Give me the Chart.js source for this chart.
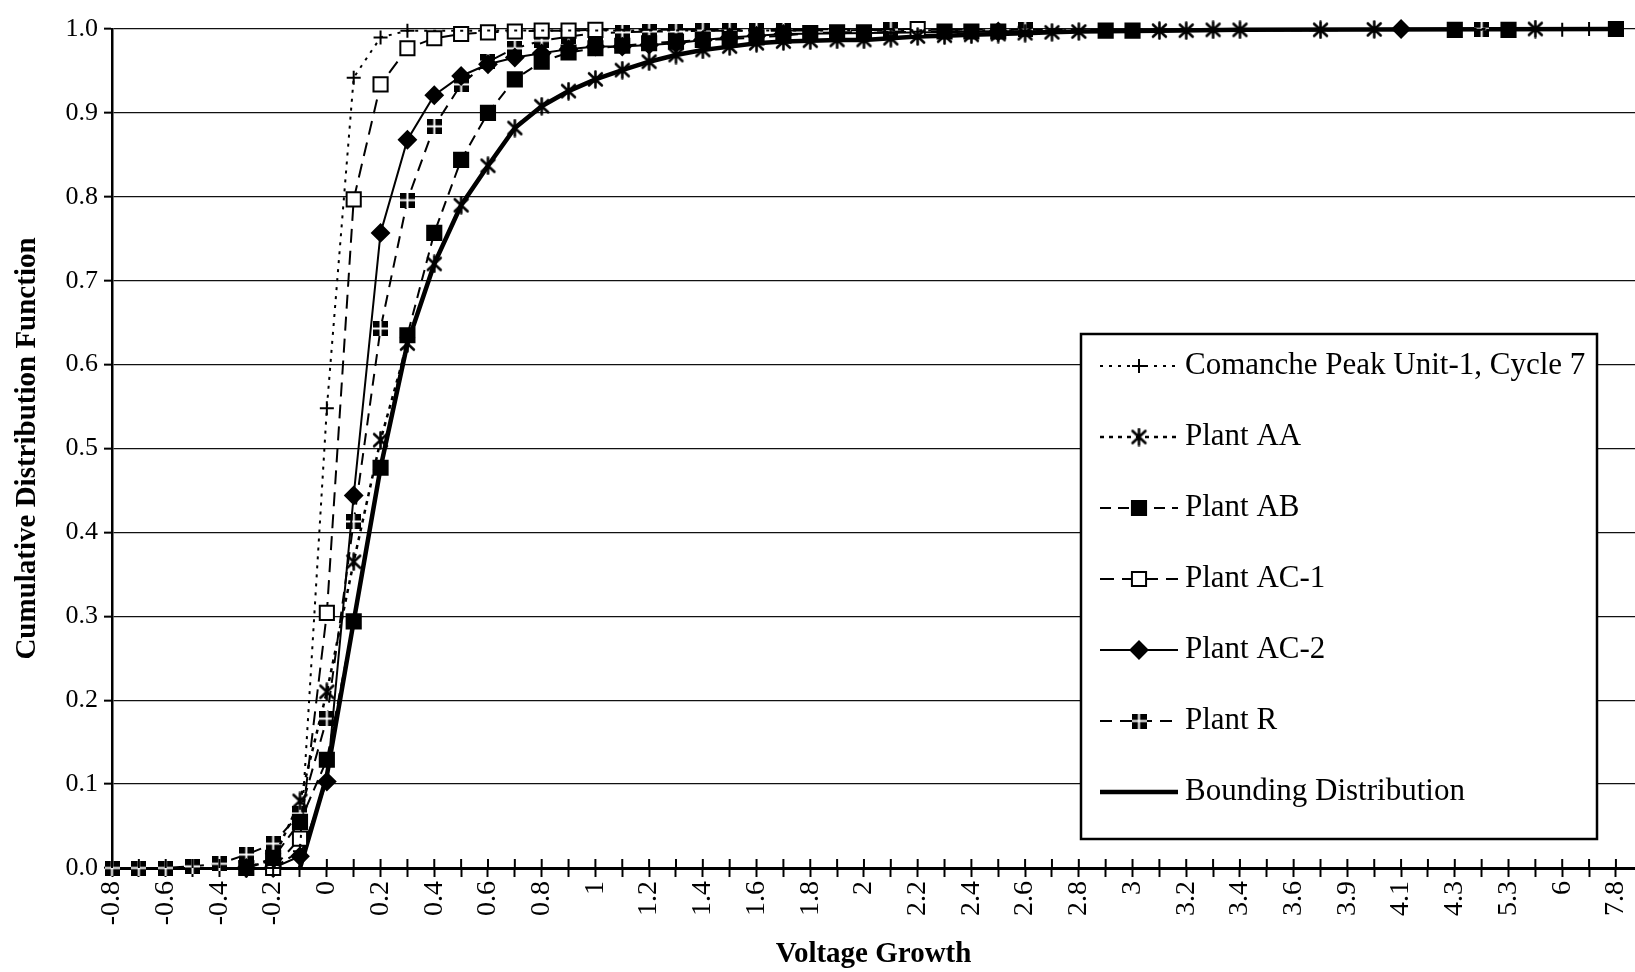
<!DOCTYPE html>
<html lang="en">
<head>
    <meta charset="UTF-8">
    <title>Voltage Growth CDF</title>
    <script src="https://cdn.jsdelivr.net/npm/chart.js@4.4.1/dist/chart.umd.min.js"></script>
    <style>
        html, body { margin: 0; padding: 0; background: #fff; overflow: hidden; }
        /* a bit wider than the window so the plot runs off the right edge */
        #wrap { width: 1647px; height: 972px; position: relative; }
    </style>
</head>
<body>
    <div id="wrap"><canvas id="cdfChart"></canvas></div>
    <script>

        // voltage growth categories (only every other one gets a label)
        const voltageLabels = [
            '-0.8', '-0.7', '-0.6', '-0.5', '-0.4', '-0.3', '-0.2', '-0.1', '0', '0.1',
            '0.2', '0.3', '0.4', '0.5', '0.6', '0.7', '0.8', '0.9', '1', '1.1',
            '1.2', '1.3', '1.4', '1.5', '1.6', '1.7', '1.8', '1.9', '2', '2.1',
            '2.2', '2.3', '2.4', '2.5', '2.6', '2.7', '2.8', '2.9', '3', '3.1',
            '3.2', '3.3', '3.4', '3.5', '3.6', '3.8', '3.9', '4', '4.1', '4.2',
            '4.3', '4.6', '5.3', '5.5', '6', '6.7', '7.8'
        ];

        const yTicks = [0, 0.1, 0.2, 0.3, 0.4, 0.5, 0.6, 0.7, 0.8, 0.9, 1.0];

        // cumulative fractions per plant, null = no point at that category
        const comanchePeak = [
            null, null, null, null, null, null, 0.0, 0.02, 0.548, 0.942,
            0.990, 0.998, null, null, null, null, null, null, null, null,
            null, null, null, null, null, null, null, null, null, null,
            null, null, null, null, null, null, null, null, null, null,
            null, null, null, null, null, null, null, null, null, null,
            null, null, null, null, 0.999, 1.0, null
        ];
        const plantAA = [
            null, null, null, null, null, 0.0, 0.01, 0.08, 0.21, 0.365,
            0.51, 0.625, 0.72, 0.79, 0.837, 0.882, 0.908, 0.926, 0.94, 0.951,
            0.961, 0.969, 0.975, 0.979, 0.983, 0.985, 0.986, 0.987, 0.987, 0.989,
            0.991, 0.992, 0.993, 0.994, 0.995, 0.996, 0.997, null, null, 0.998,
            0.998, 0.999, 0.999, null, null, 0.999, null, 0.9995, null, null,
            null, null, null, 1.0, null, null, null
        ];
        const plantAB = [
            null, null, null, null, null, 0.0, 0.012, 0.055, 0.129, 0.294,
            0.477, 0.635, 0.757, 0.844, 0.9, 0.94, 0.961, 0.972, 0.977, 0.98,
            0.983, 0.985, 0.987, 0.988, 0.99, 0.992, 0.995, 0.996, 0.996, null,
            null, 0.997, 0.997, 0.997, null, null, null, 0.998, 0.998, null,
            null, null, null, null, null, null, null, null, null, null,
            0.999, null, 0.999, null, null, null, 1.0
        ];
        const plantAC1 = [
            null, null, null, null, null, null, 0.0, 0.035, 0.304, 0.797,
            0.934, 0.977, 0.989, 0.994, 0.996, 0.997, 0.998, 0.998, 0.999, null,
            null, null, null, null, null, null, null, null, null, null,
            1.0, null, null, null, null, null, null, null, null, null,
            null, null, null, null, null, null, null, null, null, null,
            null, null, null, null, null, null, null
        ];
        const plantAC2 = [
            null, null, null, null, null, 0.0, 0.0, 0.014, 0.103, 0.444,
            0.757, 0.868, 0.921, 0.944, 0.958, 0.966, 0.971, 0.976, 0.979, 0.979,
            0.981, 0.983, 0.987, 0.99, 0.992, 0.994, null, null, null, null,
            null, null, null, 0.997, null, null, null, null, null, null,
            null, null, null, null, null, null, null, null, 1.0, null,
            null, null, null, null, null, null, null
        ];
        const plantR = [
            0.0, 0.0, 0.0, 0.002, 0.005, 0.016, 0.029, 0.065, 0.178, 0.413,
            0.643, 0.796, 0.884, 0.934, 0.961, 0.977, 0.986, 0.991, 0.995, 0.996,
            0.997, 0.997, 0.998, 0.998, 0.998, 0.998, null, null, null, 0.999,
            null, null, null, null, 0.999, null, null, null, null, null,
            null, null, null, null, null, null, null, null, null, null,
            null, 1.0, null, null, null, null, null
        ];
        const bounding = [
            null, null, null, null, null, null, null, 0.0, 0.11, 0.294,
            0.477, 0.625, 0.72, 0.79, 0.837, 0.882, 0.908, 0.926, 0.94, 0.951,
            0.961, 0.969, 0.975, 0.979, 0.983, 0.985, 0.986, 0.987, 0.987, 0.989,
            0.991, 0.992, 0.993, 0.994, 0.995, 0.996, 0.997, null, null, 0.998,
            null, null, 0.999, null, null, null, null, null, null, null,
            null, null, null, null, null, null, 1.0
        ];

        const toPoints = arr => arr.map((v, i) => ({ x: i, y: v }));

        // black square split by a white cross, used for Plant R
        function gridMarker(size) {
            const c = document.createElement('canvas');
            c.width = size; c.height = size;
            const g = c.getContext('2d');
            g.fillStyle = '#000';
            g.fillRect(0, 0, size, size);
            g.fillStyle = '#fff';
            const m = size / 2;
            g.fillRect(m - 1, 0, 2, size);
            g.fillRect(0, m - 1, size, 2);
            return c;
        }

        // six-armed asterisk: vertical bar plus an x
        function asteriskMarker(size) {
            const c = document.createElement('canvas');
            c.width = size; c.height = size;
            const g = c.getContext('2d');
            const m = size / 2, r = size / 2 - 1.5;
            g.strokeStyle = '#000';
            g.lineWidth = 2.6;
            g.lineCap = 'round';
            g.beginPath();
            g.moveTo(m, m - r); g.lineTo(m, m + r);
            g.moveTo(m - r * 0.8, m - r * 0.75); g.lineTo(m + r * 0.8, m + r * 0.75);
            g.moveTo(m + r * 0.8, m - r * 0.75); g.lineTo(m - r * 0.8, m + r * 0.75);
            g.stroke();
            return c;
        }

        Chart.defaults.font.family = '"Liberation Serif", "Times New Roman", serif';
        Chart.defaults.color = '#000';

        function series(label, data, style) {
            return Object.assign({
                label: label,
                data: toPoints(data),
                borderColor: '#000',
                backgroundColor: '#000',
                pointBackgroundColor: '#000',
                pointBorderColor: '#000',
                borderWidth: 2,
                pointBorderWidth: 2,
                tension: 0,
                spanGaps: true,
                clip: false
            }, style);
        }

        // crossing tick marks on the x axis line
        const crossTicks = {
            id: 'crossTicks',
            afterDatasetsDraw(chart) {
                const xs = chart.scales.x;
                const y0 = chart.scales.y.getPixelForValue(0);
                const ctx = chart.ctx;
                ctx.save();
                ctx.strokeStyle = '#000';
                ctx.lineWidth = 2;
                xs.ticks.forEach(t => {
                    const px = xs.getPixelForValue(t.value);
                    ctx.beginPath();
                    ctx.moveTo(px, y0 - 9);
                    ctx.lineTo(px, y0);
                    ctx.stroke();
                });
                ctx.restore();
            }
        };

        // boxed legend inside the plot
        const boxLegend = {
            id: 'boxLegend',
            afterDraw(chart) {
                const ctx = chart.ctx;
                const box = { left: 1081, top: 334, right: 1597, bottom: 839 };
                ctx.save();
                ctx.fillStyle = '#fff';
                ctx.fillRect(box.left, box.top, box.right - box.left, box.bottom - box.top);
                ctx.strokeStyle = '#000';
                ctx.lineWidth = 2.5;
                ctx.strokeRect(box.left, box.top, box.right - box.left, box.bottom - box.top);

                chart.data.datasets.forEach((ds, k) => {
                    const y = 366 + k * 71;
                    ctx.strokeStyle = '#000';
                    ctx.lineWidth = ds.borderWidth;
                    ctx.setLineDash(ds.borderDash || []);
                    ctx.beginPath();
                    ctx.moveTo(1100, y);
                    ctx.lineTo(1178, y);
                    ctx.stroke();
                    ctx.setLineDash([]);
                    if (ds.pointRadius > 0) {
                        ctx.fillStyle = ds.pointBackgroundColor;
                        ctx.strokeStyle = ds.pointBorderColor;
                        ctx.lineWidth = ds.pointBorderWidth;
                        Chart.helpers.drawPoint(ctx, {
                            pointStyle: ds.pointStyle,
                            radius: ds.pointRadius,
                            borderWidth: ds.pointBorderWidth,
                            rotation: 0
                        }, 1139, y);
                    }
                    ctx.fillStyle = '#000';
                    ctx.font = '31px "Liberation Serif"';
                    ctx.textBaseline = 'middle';
                    ctx.textAlign = 'left';
                    ctx.fillText(ds.label, 1185, y);
                });
                ctx.restore();
            }
        };

        const ctx = document.getElementById('cdfChart').getContext('2d');
        const cdfChart = new Chart(ctx, {
            type: 'line',
            data: {
                datasets: [
                    series('Comanche Peak Unit-1, Cycle 7', comanchePeak, {
                        borderDash: [3, 6], pointStyle: 'cross', pointRadius: 7
                    }),
                    series('Plant AA', plantAA, {
                        borderDash: [4, 5], borderWidth: 2.5, pointStyle: asteriskMarker(19), pointRadius: 9
                    }),
                    series('Plant AB', plantAB, {
                        borderDash: [11, 7], pointStyle: 'rect', pointRadius: 10
                    }),
                    series('Plant AC-1', plantAC1, {
                        borderDash: [14, 8], pointStyle: 'rect', pointRadius: 10,
                        pointBackgroundColor: '#fff'
                    }),
                    series('Plant AC-2', plantAC2, {
                        pointStyle: 'rectRot', pointRadius: 8.5
                    }),
                    series('Plant R', plantR, {
                        borderDash: [12, 8], pointStyle: gridMarker(15), pointRadius: 8
                    }),
                    series('Bounding Distribution', bounding, {
                        borderWidth: 4.5, pointRadius: 0
                    })
                ]
            },
            options: {
                responsive: true,
                maintainAspectRatio: false,
                animation: false,
                layout: { padding: { top: 29, left: 0, right: 0, bottom: 0 } },
                plugins: {
                    legend: { display: false },
                    tooltip: { enabled: false }
                },
                scales: {
                    x: {
                        type: 'linear',
                        min: 0,
                        max: voltageLabels.length - 1 + 0.71,
                        afterFit(scale) {
                            scale.height = 104;
                            scale.paddingLeft = 0;
                            scale.paddingRight = 0;
                        },
                        ticks: {
                            stepSize: 1,
                            autoSkip: false,
                            includeBounds: false,
                            maxTicksLimit: 100,
                            maxRotation: 90,
                            minRotation: 90,
                            padding: 4,
                            font: { size: 28 },
                            callback: v => (v % 2 === 0 ? voltageLabels[v] : '')
                        },
                        grid: {
                            drawOnChartArea: false,
                            drawTicks: true,
                            tickLength: 9,
                            tickWidth: 2,
                            tickColor: '#000'
                        },
                        border: { display: true, color: '#000', width: 3 },
                        title: {
                            display: true,
                            text: 'Voltage Growth',
                            font: { size: 29, weight: 'bold', lineHeight: 1.2 },
                            padding: { top: 0, bottom: 0 }
                        }
                    },
                    y: {
                        min: 0,
                        max: 1,
                        afterFit(scale) {
                            scale.width = 112;
                            scale.paddingTop = 0;
                            scale.paddingBottom = 0;
                        },
                        afterBuildTicks(scale) {
                            scale.ticks = yTicks.map(v => ({ value: v }));
                        },
                        ticks: {
                            padding: 6,
                            font: { size: 26 },
                            callback: v => v.toFixed(1)
                        },
                        grid: {
                            color: '#111',
                            lineWidth: 1.3,
                            tickLength: 8,
                            tickWidth: 2,
                            tickColor: '#000'
                        },
                        border: { display: true, color: '#000', width: 2.5 },
                        title: {
                            display: true,
                            text: 'Cumulative Distribution Function',
                            font: { size: 29, weight: 'bold', lineHeight: 1.2 },
                            padding: { top: 10, bottom: 0 }
                        }
                    }
                }
            },
            plugins: [crossTicks, boxLegend]
        });
    </script>
</body>
</html>
